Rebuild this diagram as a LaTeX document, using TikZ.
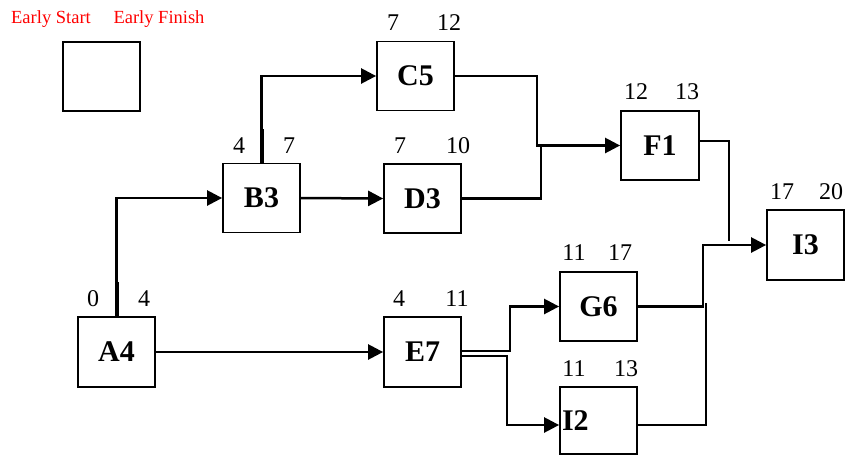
\documentclass[tikz,border=0pt]{standalone}
\usepackage{fontspec}
\setmainfont{Liberation Serif}
\usetikzlibrary{arrows.meta}
\begin{document}
\begin{tikzpicture}[x=1pt,y=-1pt,
  box/.style={draw, line width=1.8pt, minimum width=77pt, minimum height=69pt, inner sep=0pt, font=\fontsize{30}{31}\selectfont\bfseries},
  num/.style={inner sep=0pt, font=\fontsize{24}{25}\selectfont},
  legendtext/.style={inner sep=0pt, text=red, font=\fontsize{18.5}{20}\selectfont},
  conn/.style={line width=2.5pt},
  arr/.style={conn, -{Triangle[length=15pt,width=15pt]}},
  thickseg/.style={line width=4pt},
]
\useasboundingbox (0,0) rectangle (845,455);

% legend
\node[legendtext] (les) at (51,19) {Early Start};
\node[legendtext] (lef) at (159,19) {Early Finish};
\node[box] (leg) at (101.5,76.5) {};

% activity boxes
\node[box] (C5) at (415.5,76) {C5};
\node[box] (B3) at (261.5,198) {B3};
\node[box] (D3) at (422.5,198.5) {D3};
\node[box, minimum height=70pt] (A4) at (116.5,352) {A4};
\node[box, minimum height=70pt] (E7) at (422.5,352) {E7};
\node[box, minimum width=78pt] (F1) at (660,145.5) {F1};
\node[box, minimum height=70pt] (I3) at (805.5,245) {I3};
\node[box] (G6) at (598.5,306.5) {G6};
\node[box, minimum height=67pt, text width=73pt, inner xsep=2pt, align=left] (I2) at (598.5,420.5) {I2};

% early start / early finish numbers
\node[num] (C5s) at (393,23) {7};
\node[num] (C5f) at (449,23) {12};
\node[num] (B3s) at (239,146) {4};
\node[num] (B3f) at (289,146) {7};
\node[num] (D3s) at (400,146) {7};
\node[num] (D3f) at (458,146) {10};
\node[num] (A4s) at (93,299) {0};
\node[num] (A4f) at (144,299) {4};
\node[num] (E7s) at (399,299) {4};
\node[num] (E7f) at (457,299) {11};
\node[num] (F1s) at (636,92) {12};
\node[num] (F1f) at (687,92) {13};
\node[num] (I3s) at (782,192) {17};
\node[num] (I3f) at (831,192) {20};
\node[num] (G6s) at (574,253) {11};
\node[num] (G6f) at (620,253) {17};
\node[num] (I2s) at (574,369) {11};
\node[num] (I2f) at (626,369) {13};

% connectors
\draw[arr] (A4.north) |- (B3.west);
\draw[thickseg] (A4.north) -- ++(0,-34);
\draw[arr] (A4.east) -- (E7.west);
\draw[arr] (B3.north) |- (C5.west);
\draw[thickseg] (B3.north) -- ++(0,-34);
\draw[arr] (B3.east) -- (D3.west);

\coordinate (m1) at (537,145.5);
\coordinate (m2) at (541,145.5);
\draw[arr] (C5.east) -| (m1) -- (F1.west);
\draw[conn] (D3.east) -| (m2);

\coordinate (j1) at (729,241);
\draw[conn] ([yshift=4.5pt]F1.east) -| (j1);
\coordinate (j2) at (703,245);
\draw[arr] (G6.east) -| (j2) -- (I3.west);
\coordinate (j3) at (706,303);
\draw[conn] ([yshift=-4.5pt]I2.east) -| (j3);

\coordinate (e1) at (510,306.5);
\draw[arr] ([yshift=1pt]E7.east) -| (e1) -- (G6.west);
\coordinate (e2) at (507,425);
\draw[arr] ([yshift=-4pt]E7.east) -| (e2) -- ([yshift=-4.5pt]I2.west);
\end{tikzpicture}
\end{document}
